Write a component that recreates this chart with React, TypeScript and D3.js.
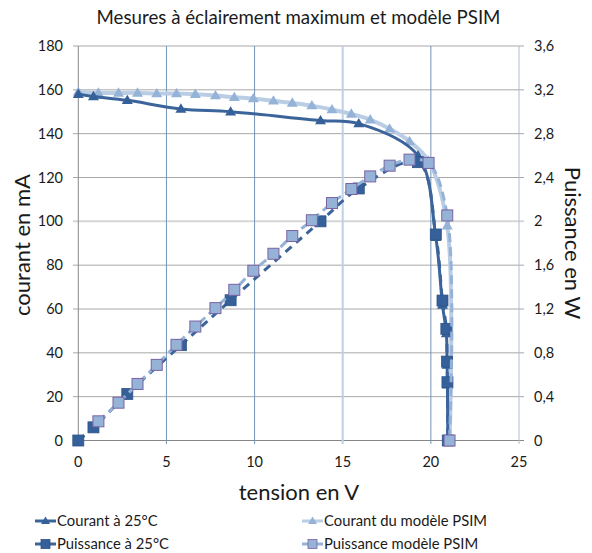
import React from "react";
import * as d3 from "d3";

// Measured at 25°C
const measV = [0, 0.86, 2.78, 5.82, 8.64, 13.74, 15.91, 19.27, 20.28, 20.66, 20.88, 20.92, 20.94, 20.96];
const measI = [158, 157, 155.2, 151.3, 150, 146, 144.6, 130, 92.7, 61.8, 48.8, 34.4, 25.4, 0];
const measP = [0, 0.12, 0.425, 0.87, 1.28, 2.0, 2.3, 2.54, 1.88, 1.277, 1.019, 0.72, 0.532, 0];

// PSIM model
const modelIV = [0, 1.14, 2.28, 3.36, 4.45, 5.57, 6.64, 7.78, 8.85, 9.93, 11.07, 12.14, 13.25, 14.39, 15.49, 16.56, 17.66, 18.79, 19.87, 20.93, 21.06];
const modelI = [159, 158.6, 158.6, 158.6, 158.3, 158.3, 158, 157.4, 156.6, 156, 155, 154, 152.8, 151, 149, 146.4, 142.2, 136.5, 127.5, 98, 0];
const modelPV = [1.14, 2.28, 3.36, 4.45, 5.57, 6.64, 7.78, 8.85, 9.93, 11.07, 12.14, 13.25, 14.39, 15.49, 16.56, 17.66, 18.79, 19.87, 20.93, 21.06];
const modelP = [0.175, 0.345, 0.516, 0.69, 0.873, 1.04, 1.208, 1.375, 1.549, 1.704, 1.866, 2.01, 2.167, 2.295, 2.41, 2.508, 2.563, 2.533, 2.054, 0];

const xTicks = [0, 5, 10, 15, 20, 25];
const yTicks = [0, 20, 40, 60, 80, 100, 120, 140, 160, 180];
const y2Ticks = [0, 0.4, 0.8, 1.2, 1.6, 2, 2.4, 2.8, 3.2, 3.6];

const title = "Mesures à éclairement maximum et modèle PSIM";
const legendLabels = ["Courant à 25°C", "Courant du modèle PSIM", "Puissance à 25°C", "Puissance modèle PSIM"];

const FONT = "Lato, 'Noto Sans', sans-serif";
const DARK = "#36609a";
const DARK_LINE = "#3b649b";
const LIGHT_LINE = "#b9cde5";
const LIGHT = "#95b3d7";
const SQ_BORDER = "#7a62a3";

const W = 592, H = 553;
const x = d3.scaleLinear().domain([0, 25]).range([78.3, 519]);
const y = d3.scaleLinear().domain([0, 180]).range([440.5, 46]);
const y2 = d3.scaleLinear().domain([0, 3.6]).range([440.5, 46]);

const curve = d3.curveCatmullRom.alpha(0.5);

function tri(cx: number, cy: number, s: number) {
  const h = s * 0.85;
  return `M${cx},${cy - h * 0.6}L${cx + s / 2},${cy + h * 0.4}L${cx - s / 2},${cy + h * 0.4}Z`;
}

export default function App() {
  const lineI = d3.line<[number, number]>().x(d => x(d[0])).y(d => y(d[1])).curve(curve);
  const lineP = d3.line<[number, number]>().x(d => x(d[0])).y(d => y2(d[1])).curve(curve);
  const measIPts = measV.map((v, i) => [v, measI[i]] as [number, number]);
  const measPPts = measV.map((v, i) => [v, measP[i]] as [number, number]);
  const modIPts = modelIV.map((v, i) => [v, modelI[i]] as [number, number]);
  const modPPts = modelPV.map((v, i) => [v, modelP[i]] as [number, number]);
  const fmt = (v: number) => String(v).replace(".", ",");

  return (
    <svg width={W} height={H} style={{ position: "absolute", left: 0, top: 0 }} fontFamily={FONT}>
      <rect width={W} height={H} fill="#fff" />
      <text x={298.5} y={24} textAnchor="middle" fontSize={18.7} fill="#1a1a1a">{title}</text>

      {/* horizontal grid */}
      {yTicks.map(t => (
        <line key={"h" + t} x1={t === 0 ? 78.3 : 73} x2={524} y1={y(t)} y2={y(t)}
          stroke={t === 100 ? "#d6d6d6" : t === 0 ? "#878787" : "#a8a8a8"} strokeWidth={t === 100 ? 2 : 1} />
      ))}
      <line x1={73} x2={78.3} y1={y(0)} y2={y(0)} stroke="#a8a8a8" />
      {/* vertical grid */}
      {xTicks.map(t => (
        <line key={"v" + t} x1={x(t)} x2={x(t)} y1={46} y2={444}
          stroke={t === 0 ? "#878787" : t === 15 ? "#bcd0e6" : t === 25 ? "#aebdcd" : "#7294b6"}
          strokeWidth={t === 15 ? 2 : 1} />
      ))}

      {/* tick labels */}
      {yTicks.map(t => (
        <text key={"yl" + t} x={63} y={y(t) + 5} textAnchor="end" fontSize={14.5} fill="#1a1a1a">{t}</text>
      ))}
      {y2Ticks.map(t => (
        <text key={"yr" + t} x={534} y={y2(t) + 5} textAnchor="start" fontSize={14.5} fill="#1a1a1a">{fmt(t)}</text>
      ))}
      {xTicks.map(t => (
        <text key={"xl" + t} x={x(t)} y={467} textAnchor="middle" fontSize={14.5} fill="#1a1a1a">{t}</text>
      ))}

      {/* axis titles */}
      <text transform={`translate(30,245) rotate(-90)`} textAnchor="middle" fontSize={22} fill="#1a1a1a">courant en mA</text>
      <text transform={`translate(565,243) rotate(90)`} textAnchor="middle" fontSize={22} fill="#1a1a1a">Puissance en W</text>
      <text x={299} y={500} textAnchor="middle" fontSize={22} fill="#1a1a1a">tension en V</text>

      {/* model current (underneath) */}
      <path d={lineI(modIPts) || ""} fill="none" stroke={LIGHT_LINE} strokeWidth={4} />
      {modIPts.map((p, i) => (
        <path key={"mt" + i} d={tri(x(p[0]), y(p[1]), 11)} fill={LIGHT} />
      ))}
      {/* measured current */}
      <path d={lineI(measIPts) || ""} fill="none" stroke={DARK_LINE} strokeWidth={3} />
      {measIPts.map((p, i) => (
        <path key={"dt" + i} d={tri(x(p[0]), y(p[1]), 11)} fill={DARK} />
      ))}
      {/* measured power */}
      <path d={lineP(measPPts) || ""} fill="none" stroke={DARK_LINE} strokeWidth={3} strokeDasharray="8,6" />
      {measPPts.map((p, i) => (
        <rect key={"ds" + i} x={x(p[0]) - 5.5} y={y2(p[1]) - 5.5} width={11} height={11} fill={DARK} stroke="#2e5488" strokeWidth={0.8} />
      ))}
      {/* model power */}
      <path d={lineP(modPPts) || ""} fill="none" stroke={LIGHT} strokeWidth={3} strokeDasharray="9,5" />
      {modPPts.map((p, i) => (
        <rect key={"ms" + i} x={x(p[0]) - 5.5} y={y2(p[1]) - 5.5} width={11} height={11} fill={LIGHT} stroke={SQ_BORDER} strokeWidth={1} />
      ))}

      {/* legend */}
      {legendLabels.map((lab, i) => {
        const col = i % 2, row = Math.floor(i / 2);
        const lx = col === 0 ? 35 : 302;
        const ly = row === 0 ? 521 : 544;
        const isCurrent = row === 0;
        const isModel = col === 1;
        const lineColor = isModel ? (isCurrent ? LIGHT_LINE : LIGHT) : DARK_LINE;
        const mColor = isModel ? LIGHT : DARK;
        return (
          <g key={"lg" + i}>
            <line x1={lx} x2={lx + 21} y1={ly} y2={ly} stroke={lineColor} strokeWidth={3} />
            {isCurrent ? (
              <path d={tri(lx + 10.5, ly, 9)} fill={mColor} />
            ) : (
              <rect x={lx + 6} y={ly - 4.5} width={9} height={9} fill={mColor} stroke={isModel ? SQ_BORDER : "#2e5488"} strokeWidth={0.8} />
            )}
            <text x={lx + 22} y={ly + 5} fontSize={14.8} fill="#1a1a1a">{lab}</text>
          </g>
        );
      })}
    </svg>
  );
}
